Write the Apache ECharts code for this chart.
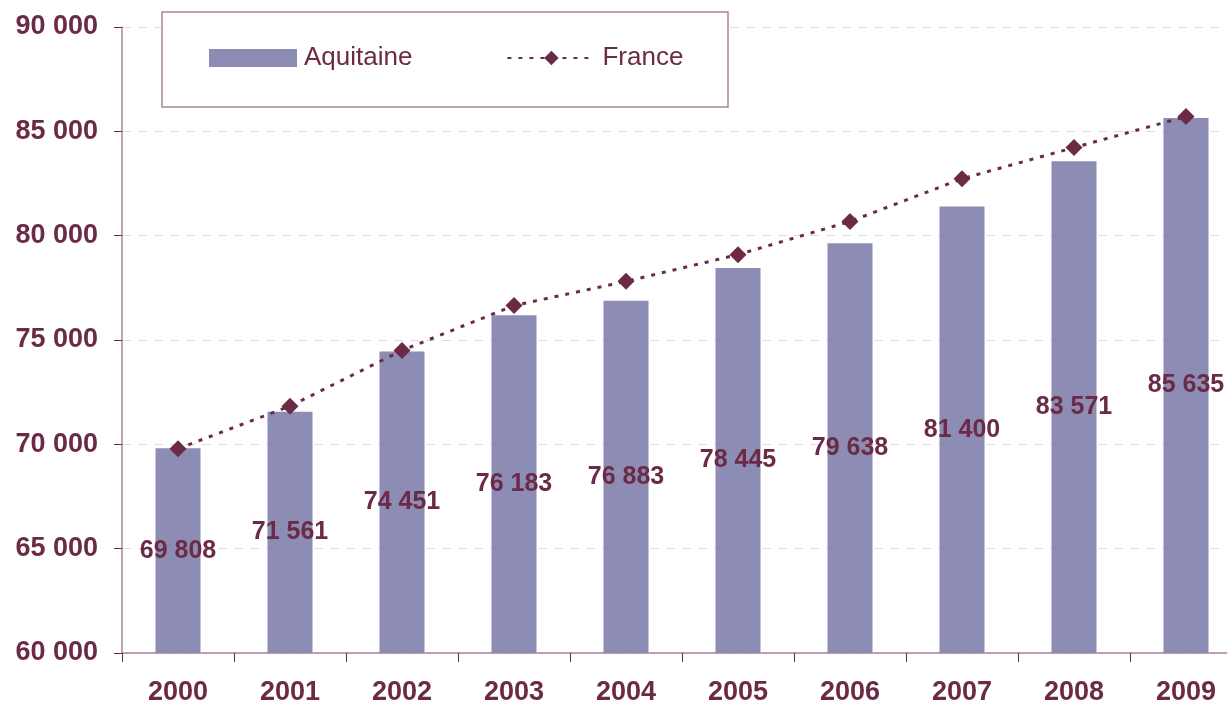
<!DOCTYPE html>
<html>
<head>
<meta charset="utf-8">
<script src="https://cdn.jsdelivr.net/npm/echarts@6/dist/echarts.min.js"></script>
<style>
    html, body { margin: 0; padding: 0; background: #fff; overflow: hidden; }
    #chart { width: 1242px; height: 706px; }
</style>
</head>
<body>
<div id="chart"></div>
<script>
var years = ["2000", "2001", "2002", "2003", "2004", "2005", "2006", "2007", "2008", "2009"]
var aquitaine = [69808, 71561, 74451, 76183, 76883, 78445, 79638, 81400, 83571, 85635]
var france = [69790, 71830, 74500, 76650, 77810, 79090, 80680, 82730, 84220, 85710]

var maroon = "#6b2a45"
var font = "'Liberation Sans', Arial, sans-serif"

function fmt(v) {
    return String(v).replace(/\B(?=(\d{3})+(?!\d))/g, " ")
}

// the plot runs a little past the right edge of the window, like the original
var myChart = echarts.init(document.getElementById("chart"))

var option = {
    animation: false,
    backgroundColor: "#fff",
    grid: {
        left: 122,
        top: 27,
        right: 0,
        bottom: 52,
        containLabel: false
    },
    graphic: [
        {
            type: "rect",
            z: 3,
            shape: { x: 162, y: 12, width: 566, height: 95 },
            style: { fill: "#fff", stroke: "#a98695", lineWidth: 1.5 }
        }
    ],
    legend: {
        left: 209,
        top: 45,
        padding: 0,
        z: 5,
        itemWidth: 88,
        itemHeight: 18,
        itemGap: 94,
        textStyle: { fontSize: 26, color: maroon, fontFamily: font, padding: [0, 0, 0, 2] },
        data: [
            { name: "Aquitaine", icon: "rect" },
            { name: "France" }
        ]
    },
    xAxis: {
        type: "category",
        data: years,
        axisLine: { lineStyle: { color: "#a98695", width: 1.5 } },
        axisTick: { show: true, length: 9, lineStyle: { color: maroon } },
        axisLabel: {
            margin: 26,
            fontSize: 27,
            fontWeight: "bold",
            color: maroon,
            fontFamily: font
        }
    },
    yAxis: {
        type: "value",
        min: 60000,
        max: 90000,
        interval: 5000,
        axisLine: { show: true, lineStyle: { color: "#a98695", width: 1.5 } },
        axisTick: { show: true, length: 8, lineStyle: { color: maroon } },
        splitLine: { lineStyle: { color: "#dcd8ea", type: [9, 7], width: 1 } },
        axisLabel: {
            margin: 24,
            fontSize: 27,
            fontWeight: "bold",
            color: maroon,
            fontFamily: font,
            formatter: fmt
        }
    },
    series: [
        {
            name: "Aquitaine",
            type: "bar",
            barWidth: 45,
            data: aquitaine,
            itemStyle: { color: "#8c8cb4" },
            label: {
                show: true,
                position: "inside",
                fontSize: 25,
                fontWeight: "bold",
                color: maroon,
                fontFamily: font,
                formatter: function (p) { return fmt(p.value) }
            }
        },
        {
            name: "France",
            type: "line",
            data: france,
            symbol: "diamond",
            symbolSize: 17,
            itemStyle: { color: maroon },
            lineStyle: { color: maroon, width: 3, type: [4, 7] },
            z: 3
        }
    ]
}

myChart.setOption(option)
</script>
</body>
</html>
